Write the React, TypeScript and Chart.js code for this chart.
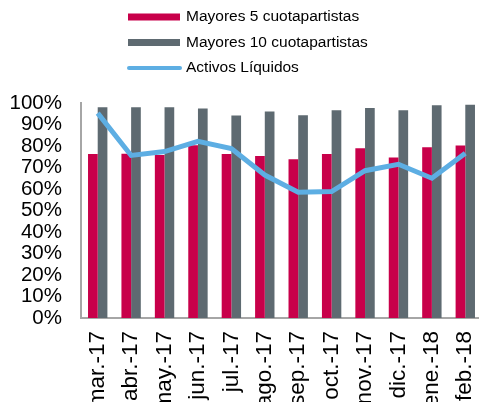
import React, { useEffect, useRef } from "react";
import { Chart, registerables } from "chart.js";

Chart.register(...registerables);

const categories = ["mar.-17", "abr.-17", "may.-17", "jun.-17", "jul.-17", "ago.-17", "sep.-17", "oct.-17", "nov.-17", "dic.-17", "ene.-18", "feb.-18"];
const mayores5 = [76.3, 76.4, 75.8, 80.3, 76.3, 75.3, 73.8, 76.3, 78.9, 74.6, 79.4, 80.2];
const mayores10 = [98.0, 98.0, 98.0, 97.4, 94.2, 96.1, 94.3, 96.6, 97.7, 96.6, 98.9, 99.2];
const activosLiquidos = [95.3, 75.6, 77.4, 82.2, 78.8, 66.5, 58.5, 58.8, 68.5, 71.5, 65.0, 76.6];
const yTicks = [0, 10, 20, 30, 40, 50, 60, 70, 80, 90, 100];

const RED = "#C8004A";
const GRAY = "#5E6A71";
const BLUE = "#5DAEE3";
const FONT = "'Liberation Sans', Arial, sans-serif";

const legendPlugin = {
  id: "customLegend",
  afterDraw(chart: any) {
    const ctx = chart.ctx;
    ctx.save();
    ctx.font = `15.5px ${FONT}`;
    ctx.fillStyle = "#000";
    ctx.textBaseline = "middle";
    ctx.textAlign = "left";
    const items = [
      { label: "Mayores 5 cuotapartistas", color: RED, type: "box", y: 17 },
      { label: "Mayores 10 cuotapartistas", color: GRAY, type: "box", y: 42.5 },
      { label: "Activos Líquidos", color: BLUE, type: "line", y: 68 },
    ];
    items.forEach((it) => {
      if (it.type === "box") {
        ctx.fillStyle = it.color;
        ctx.fillRect(128, it.y - 3.5, 52, 7);
      } else {
        ctx.strokeStyle = it.color;
        ctx.lineWidth = 4;
        ctx.lineCap = "round";
        ctx.beginPath();
        ctx.moveTo(129, it.y);
        ctx.lineTo(180, it.y);
        ctx.stroke();
      }
      ctx.fillStyle = "#000";
      ctx.fillText(it.label, 186, it.y);
    });
    ctx.restore();
  },
};

export default function App() {
  const ref = useRef<HTMLCanvasElement>(null);
  useEffect(() => {
    if (!ref.current) return;
    const chart = new Chart(ref.current, {
      type: "bar",
      data: {
        labels: categories,
        datasets: [
          {
            type: "line",
            label: "Activos Líquidos",
            data: activosLiquidos,
            borderColor: BLUE,
            backgroundColor: BLUE,
            borderWidth: 5,
            pointRadius: 0,
            tension: 0,
            order: 0,
          } as any,
          {
            label: "Mayores 5 cuotapartistas",
            data: mayores5,
            backgroundColor: RED,
            categoryPercentage: 0.58,
            barPercentage: 1,
            order: 1,
          },
          {
            label: "Mayores 10 cuotapartistas",
            data: mayores10,
            backgroundColor: GRAY,
            categoryPercentage: 0.58,
            barPercentage: 1,
            order: 1,
          },
        ],
      },
      options: {
        animation: false,
        responsive: false,
        maintainAspectRatio: false,
        layout: { padding: { top: 103, left: 0, right: 0, bottom: 0 } },
        plugins: { legend: { display: false }, tooltip: { enabled: false } },
        scales: {
          x: {
            grid: { display: false, drawTicks: false },
            border: { display: true, color: "#A6A6A6", width: 2 },
            ticks: {
              font: { family: FONT, size: 22.5 },
              color: "#000",
              maxRotation: 90,
              minRotation: 90,
              padding: 13,
              autoSkip: false,
            },
            afterFit(scale: any) {
              scale.height = 100;
              scale.paddingLeft = 0;
              scale.paddingRight = 0;
            },
          },
          y: {
            min: 0,
            max: 100,
            afterBuildTicks(scale: any) {
              scale.ticks = yTicks.map((v) => ({ value: v }));
            },
            grid: { display: false, drawTicks: false },
            border: { display: true, color: "#A6A6A6", width: 2 },
            ticks: {
              font: { family: FONT, size: 20.5 },
              color: "#000",
              padding: 19,
              autoSkip: false,
              callback: (v: any) => `${v}%`,
            },
            afterFit(scale: any) {
              scale.width = 81;
              scale.paddingTop = 0;
              scale.paddingBottom = 0;
            },
          },
        },
      },
      plugins: [legendPlugin],
    });
    return () => chart.destroy();
  }, []);
  return (
    <div style={{ position: "fixed", left: 0, top: 0, width: 479, height: 402, overflow: "hidden", background: "#fff" }}>
      <canvas ref={ref} width={482} height={418} style={{ display: "block" }} />
    </div>
  );
}
